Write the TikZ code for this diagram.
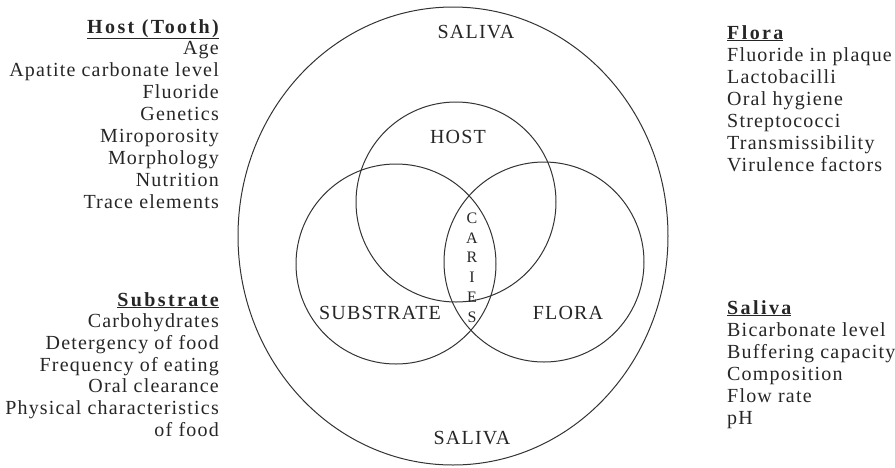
\documentclass[tikz,border=0pt]{standalone}
\usepackage{fontspec}
\setmainfont{Liberation Serif}[LetterSpace=6]
\newfontfamily\headfont{Liberation Serif}[LetterSpace=12]
\usetikzlibrary{shapes.geometric}
\begin{document}
\begin{tikzpicture}[x=1pt,y=-1pt,
  ring/.style={draw=black!80, line width=1pt, inner sep=0pt},
  item/.style={font=\fontsize{20}{22}\selectfont, text=black!85, inner sep=0pt},
  head/.style={item, font=\fontsize{20}{22}\headfont\bfseries},
  biglab/.style={font=\fontsize{20}{22}\selectfont, text=black!85, inner sep=0pt},
  letter/.style={font=\fontsize{16}{18}\selectfont, text=black!85, inner sep=0pt}]
\useasboundingbox (0,0) rectangle (895,467);
% circles
\node[ring, ellipse, minimum width=430pt, minimum height=458pt] (saliva) at (453,236) {};
\node[ring, circle, minimum size=200pt] (host) at (456,202) {};
\node[ring, circle, minimum size=200pt] (substrate) at (396,264) {};
\node[ring, circle, minimum size=200pt] (flora) at (544,262) {};
% circle labels
\node[biglab] (salivatop) at (476,32) {SALIVA};
\node[biglab] (salivabot) at (472,438) {SALIVA};
\node[biglab] (hostlab) at (458,137) {HOST};
\node[biglab] (sublab) at (380,313) {SUBSTRATE};
\node[biglab] (floralab) at (568,313) {FLORA};
\foreach \l [count=\k from 0] in {C,A,R,I,E,S}
  \node[letter] (car\k) at (472,{218+\k*19.8}) {\l};
% Host list
\node[head, anchor=base east] (hosthead) at (219,33) {\underline{Host (Tooth)}};
\foreach \t [count=\i] in {Age,Apatite carbonate level,Fluoride,Genetics,Miroporosity,Morphology,Nutrition,Trace elements}
  \node[item, anchor=base east] (hl\i) at (219,{33+\i*21.9}) {\t};
% Substrate list
\node[head, anchor=base east] (subhead) at (219,306) {\underline{Substrate}};
\foreach \t [count=\i] in {Carbohydrates,Detergency of food,Frequency of eating,Oral clearance,Physical characteristics,of food}
  \node[item, anchor=base east] (sl\i) at (219,{306+\i*21.7}) {\t};
% Flora list
\node[head, anchor=base west] (florahead) at (727,39) {\underline{Flora}};
\foreach \t [count=\i] in {Fluoride in plaque,Lactobacilli,Oral hygiene,Streptococci,Transmissibility,Virulence factors}
  \node[item, anchor=base west] (fl\i) at (727,{39+\i*22}) {\t};
% Saliva list
\node[head, anchor=base west] (salhead) at (727,314) {\underline{Saliva}};
\foreach \t [count=\i] in {Bicarbonate level,Buffering capacity,Composition,Flow rate,pH}
  \node[item, anchor=base west] (al\i) at (727,{314+\i*22}) {\t};
\end{tikzpicture}
\end{document}
